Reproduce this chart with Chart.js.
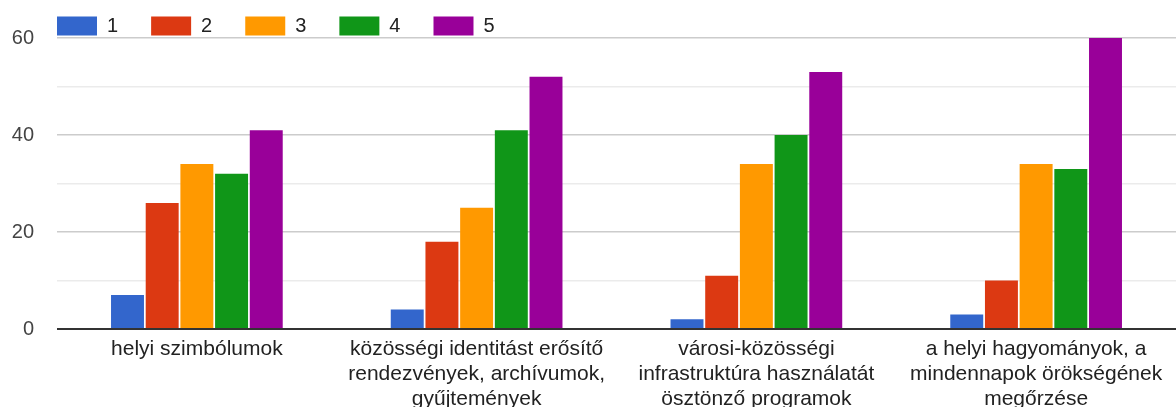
<!DOCTYPE html>
<html>
<head>
<meta charset="utf-8">
<script src="https://cdn.jsdelivr.net/npm/chart.js@4/dist/chart.umd.min.js"></script>
<style>
  html, body { margin: 0; padding: 0; background: #fff; }
  #wrap { width: 1176px; height: 407px; position: relative; }
</style>
</head>
<body>
<div id="wrap"><canvas id="chart"></canvas></div>
<script>
// categories (multi-line labels, as in the form summary)
const categories = [
  ['helyi szimbólumok'],
  ['közösségi identitást erősítő', 'rendezvények, archívumok,', 'gyűjtemények'],
  ['városi-közösségi', 'infrastruktúra használatát', 'ösztönző programok'],
  ['a helyi hagyományok, a', 'mindennapok örökségének', 'megőrzése']
];

const seriesNames = ['1', '2', '3', '4', '5'];
const series1 = [7, 4, 2, 3];
const series2 = [26, 18, 11, 10];
const series3 = [34, 25, 34, 34];
const series4 = [32, 41, 40, 33];
const series5 = [41, 52, 53, 60];
const yTickLabels = [0, 20, 40, 60];

const colors = ['#3366cc', '#dc3912', '#ff9900', '#109618', '#990099'];
const allSeries = [series1, series2, series3, series4, series5];
const FONT = 'Arial, "Liberation Sans", sans-serif';

// push the legend right so it starts over the plot area
const legendShift = {
  id: 'legendShift',
  afterLayout(chart) {
    chart.legend.left += 24;
    chart.legend.right += 24;
  }
};

const ctx = document.getElementById('chart').getContext('2d');

new Chart(ctx, {
  type: 'bar',
  data: {
    labels: categories,
    datasets: allSeries.map((vals, i) => ({
      label: seriesNames[i],
      data: vals,
      backgroundColor: colors[i],
      borderWidth: 0,
      barPercentage: 0.95,
      categoryPercentage: 0.62
    }))
  },
  options: {
    responsive: true,
    maintainAspectRatio: false,
    animation: false,
    layout: { padding: { left: 0, right: 0, top: -17, bottom: 0 } },
    plugins: {
      legend: {
        position: 'top',
        align: 'start',
        maxHeight: 55,
        labels: {
          boxWidth: 40,
          boxHeight: 19,
          padding: 33,
          color: '#222',
          font: { family: FONT, size: 20 }
        }
      },
      tooltip: { enabled: false }
    },
    scales: {
      x: {
        grid: { display: false },
        border: { display: false },
        ticks: {
          color: '#222',
          padding: 0,
          maxRotation: 0,
          autoSkip: false,
          font: { family: FONT, size: 21, lineHeight: 1.19 }
        },
        afterFit: (scale) => { scale.height = 78; }
      },
      y: {
        min: 0,
        max: 60,
        border: { display: false },
        grid: {
          drawTicks: false,
          color: (c) => c.tick.value === 0 ? '#333' : (yTickLabels.includes(c.tick.value) ? '#cccccc' : '#ebebeb'),
          lineWidth: (c) => c.tick.value === 0 ? 2 : 1.5
        },
        ticks: {
          stepSize: 10,
          padding: 23,
          color: '#444',
          font: { family: FONT, size: 20 },
          callback: (v) => yTickLabels.includes(v) ? String(v) : ''
        },
        afterFit: (scale) => { scale.width = 57; }
      }
    }
  },
  plugins: [legendShift]
});
</script>
</body>
</html>
